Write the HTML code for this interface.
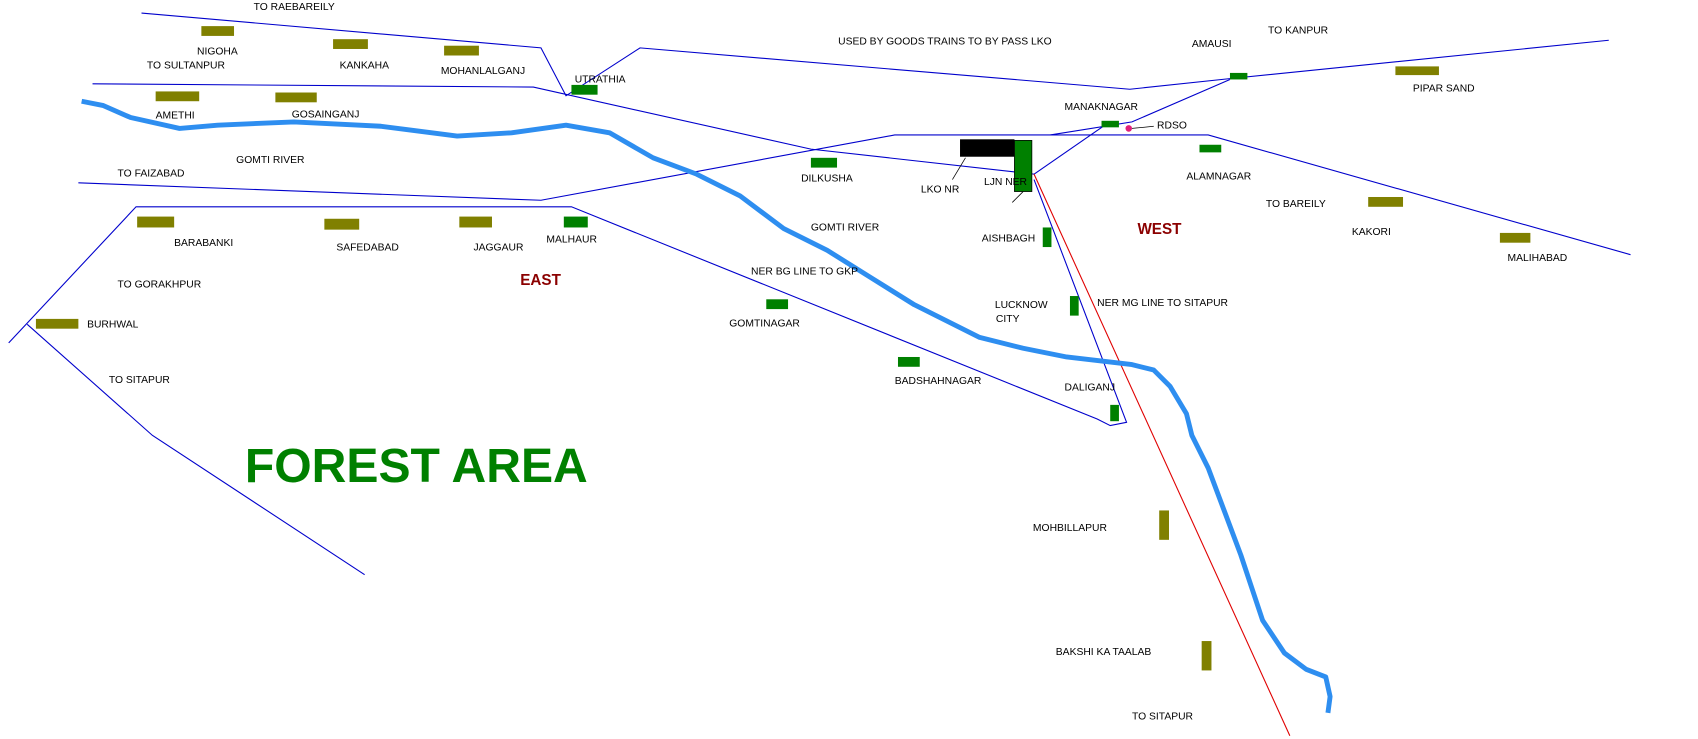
<!DOCTYPE html>
<html><head><meta charset="utf-8"><style>
html,body{margin:0;padding:0;background:#fff;}
svg{display:block;}
text{font-family:"Liberation Sans",Arial,sans-serif;font-size:9.5px;fill:#000;}
</style></head><body>
<svg width="1698" height="739" viewBox="0 0 1560 679" preserveAspectRatio="none" xmlns="http://www.w3.org/2000/svg">
<rect width="1560" height="679" fill="#fff"/>
<g fill="none" stroke="#0000cc" stroke-width="1">
<polyline points="130,12 497,44 520,88 588,44 1038,82 1132,72 1478,37"/>
<polyline points="85,77 490,80 745,137 950,160"/>
<polyline points="72,168 497,184 822,124 965,124 1040,112 1130,73"/>
<polyline points="965,124 1110,124 1498,234"/>
<polyline points="950,160 1018,113"/>
<polyline points="8,315 125,190 525,190 1008,385 1020,391 1035,388 950,165"/>
<polyline points="25,298 140,400 335,528"/>
</g>
<line x1="950" y1="160" x2="1185" y2="676" stroke="#e00000" stroke-width="1"/>
<path d="M75,93 L95,97 L120,108 L165,118 L200,115 L270,112 L350,116 L420,125 L470,122 L520,115 L560,122 L600,145 L640,160 L680,180 L700,195 L720,210 L760,230 L800,255 L840,280 L870,295 L900,310 L940,320 L980,328 L1040,335 L1060,340 L1075,355 L1090,380 L1095,400 L1110,430 L1125,470 L1140,510 L1150,540 L1160,570 L1180,600 L1200,615 L1218,622 L1222,640 L1220,655" fill="none" stroke="#2e8ef0" stroke-width="4.5" stroke-linejoin="round"/>
<g fill="#808000">
<rect x="185" y="24" width="30" height="9"/><rect x="306" y="36" width="32" height="9"/><rect x="408" y="42" width="32" height="9"/>
<rect x="143" y="84" width="40" height="9"/><rect x="253" y="85" width="38" height="9"/>
<rect x="126" y="199" width="34" height="10"/><rect x="298" y="201" width="32" height="10"/><rect x="422" y="199" width="30" height="10"/>
<rect x="33" y="293" width="39" height="9"/><rect x="1282" y="61" width="40" height="8"/><rect x="1257" y="181" width="32" height="9"/>
<rect x="1378" y="214" width="28" height="9"/><rect x="1065" y="469" width="9" height="27"/><rect x="1104" y="589" width="9" height="27"/>
</g>
<g fill="#008000">
<rect x="525" y="78" width="24" height="9"/><rect x="518" y="199" width="22" height="10"/><rect x="745" y="145" width="24" height="9"/>
<rect x="704" y="275" width="20" height="9"/><rect x="825" y="328" width="20" height="9"/><rect x="958" y="209" width="8" height="18"/>
<rect x="983" y="272" width="8" height="18"/><rect x="1020" y="372" width="8" height="15"/><rect x="1130" y="67" width="16" height="6"/>
<rect x="1012" y="111" width="16" height="6"/><rect x="1102" y="133" width="20" height="7"/>
<rect x="932" y="129" width="16" height="47" stroke="#000" stroke-width="0.7"/>
</g>
<rect x="882" y="128" width="50" height="16" fill="#000"/>
<circle cx="1037" cy="118" r="3" fill="#e0207a"/>
<g stroke="#000" stroke-width="0.7"><line x1="1040" y1="118" x2="1060" y2="116"/><line x1="887" y1="145" x2="875" y2="165"/><line x1="940" y1="176" x2="930" y2="186"/></g>
<text x="233" y="9">TO RAEBAREILY</text><text x="181" y="50">NIGOHA</text><text x="135" y="63">TO SULTANPUR</text>
<text x="312" y="63">KANKAHA</text><text x="405" y="68">MOHANLALGANJ</text><text x="528" y="76">UTRATHIA</text>
<text x="770" y="41">USED BY GOODS TRAINS TO BY PASS LKO</text><text x="1095" y="43">AMAUSI</text><text x="1165" y="31">TO KANPUR</text>
<text x="1298" y="84">PIPAR SAND</text><text x="978" y="101">MANAKNAGAR</text><text x="1063" y="118">RDSO</text>
<text x="143" y="109">AMETHI</text><text x="268" y="108">GOSAINGANJ</text><text x="108" y="162">TO FAIZABAD</text>
<text x="217" y="150">GOMTI RIVER</text><text x="736" y="167">DILKUSHA</text><text x="846" y="177">LKO NR</text>
<text x="904" y="170">LJN NER</text><text x="1090" y="165">ALAMNAGAR</text><text x="1163" y="190">TO BAREILY</text>
<text x="1242" y="216">KAKORI</text><text x="1385" y="240">MALIHABAD</text>
<text x="1045" y="215" style="font-size:14px;font-weight:bold;fill:#8b0000">WEST</text>
<text x="902" y="222">AISHBAGH</text><text x="745" y="212">GOMTI RIVER</text><text x="160" y="226">BARABANKI</text>
<text x="309" y="230">SAFEDABAD</text><text x="435" y="230">JAGGAUR</text><text x="502" y="223">MALHAUR</text>
<text x="690" y="252">NER BG LINE TO GKP</text>
<text x="478" y="262" style="font-size:14px;font-weight:bold;fill:#8b0000">EAST</text>
<text x="108" y="264">TO GORAKHPUR</text><text x="80" y="301">BURHWAL</text><text x="670" y="300">GOMTINAGAR</text>
<text x="914" y="283">LUCKNOW</text><text x="915" y="296">CITY</text><text x="1008" y="281">NER MG LINE TO SITAPUR</text>
<text x="822" y="353">BADSHAHNAGAR</text><text x="978" y="359">DALIGANJ</text><text x="100" y="352">TO SITAPUR</text>
<text x="225" y="443" textLength="315" lengthAdjust="spacingAndGlyphs" style="font-size:44px;font-weight:bold;fill:#008000">FOREST AREA</text>
<text x="949" y="488">MOHBILLAPUR</text><text x="970" y="602">BAKSHI KA TAALAB</text><text x="1040" y="661">TO SITAPUR</text>
</svg>
</body></html>
